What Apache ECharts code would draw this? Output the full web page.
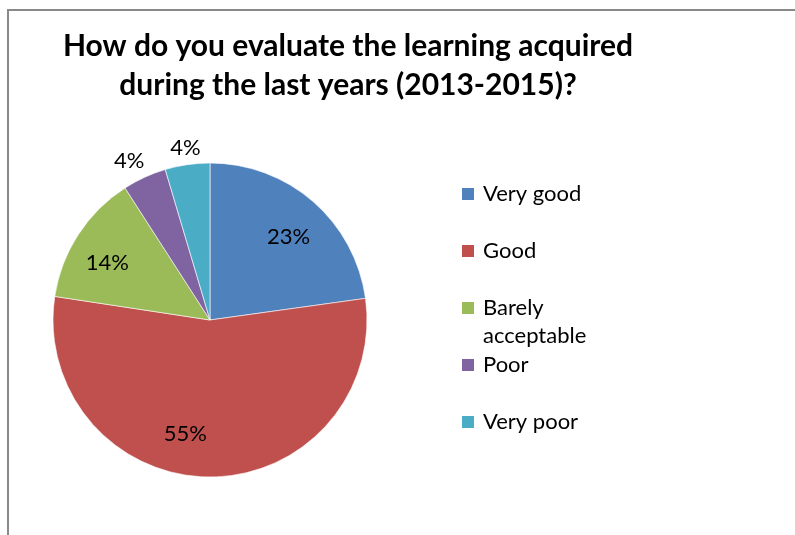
<!DOCTYPE html>
<html>
<head>
<meta charset="utf-8">
<script src="https://cdn.jsdelivr.net/npm/echarts@6/dist/echarts.min.js"></script>
<style>
html,body{margin:0;padding:0;background:#fff;}
#chart{width:795px;height:535px;}
</style>
</head>
<body>
<div id="chart"></div>
<script>
const titleText = 'How do you evaluate the learning acquired\nduring the last years (2013-2015)?';
const categories = ['Very good', 'Good', 'Barely acceptable', 'Poor', 'Very poor'];
const values = [22.8, 54.6, 13.5, 4.5, 4.6];
const labelTexts = ['23%', '55%', '14%', '4%', '4%'];
const colors = ['#4F81BD', '#C0504D', '#9BBB59', '#8064A2', '#4BACC6'];
const outsideLabels = ['Poor', 'Very poor'];

const FONT = 'Lato, "Open Sans", "Liberation Sans", sans-serif';
const chart = echarts.init(document.getElementById('chart'), null, {renderer: 'canvas'});

const labelOffsets = {
  'Very good': [2, 5], 'Good': [-24, -3], 'Barely acceptable': [-5, 6],
  'Poor': [-7, 2], 'Very poor': [1, 3]
};

const pieData = categories.map((c, i) => ({name: c, value: values[i], itemStyle: {color: colors[i]}}));
const innerLabelData = categories.map((c, i) => ({
  name: c,
  value: values[i],
  label: {show: outsideLabels.indexOf(c) < 0, offset: labelOffsets[c] || [0, 0]}
}));
const outerLabelData = categories.map((c, i) => ({
  name: c,
  value: values[i],
  label: {show: outsideLabels.indexOf(c) >= 0, offset: labelOffsets[c] || [0, 0]}
}));

const labelSeriesBase = {
  type: 'pie',
  center: [210, 320],
  startAngle: 90,
  clockwise: true,
  silent: true,
  itemStyle: {color: 'rgba(0,0,0,0)', borderWidth: 0},
  labelLine: {show: false},
  emphasis: {disabled: true},
  z: 3
};

chart.setOption({
  animation: false,
  backgroundColor: '#ffffff',
  graphic: [{
    type: 'rect',
    shape: {x: 8, y: 10, width: 1200, height: 1200},
    style: {fill: null, stroke: '#898989', lineWidth: 2},
    silent: true,
    z: -10
  }],
  title: {
    text: titleText,
    left: 348,
    top: 27,
    padding: 0,
    textAlign: 'center',
    textStyle: {fontFamily: FONT, fontSize: 30, fontWeight: 'bold', lineHeight: 39, color: '#000'}
  },
  legend: {
    orient: 'vertical',
    left: 460,
    top: 155,
    padding: 0,
    itemWidth: 14,
    itemHeight: 14,
    itemGap: -21,
    icon: 'rect',
    data: categories,
    selectedMode: false,
    formatter: function (name) {
      if (name === 'Barely acceptable') return '{e|\u00a0}\n{t|Barely}\n{t|acceptable}';
      return '{e|\u00a0}\n{t|' + name + '}\n{e|\u00a0}';
    },
    textStyle: {
      fontFamily: FONT, fontSize: 22, color: '#000',
      rich: {
        e: {fontFamily: FONT, fontSize: 22, lineHeight: 28},
        t: {fontFamily: FONT, fontSize: 22, lineHeight: 28, color: '#000', padding: [0, 0, 0, 3]}
      }
    }
  },
  series: [{
    type: 'pie',
    center: [210, 320],
    radius: [0, 157],
    startAngle: 90,
    clockwise: true,
    data: pieData,
    label: {show: false},
    labelLine: {show: false},
    itemStyle: {borderColor: '#ffffff', borderWidth: 0.6},
    emphasis: {disabled: true}
  }, Object.assign({}, labelSeriesBase, {
    radius: [70, 157],
    data: innerLabelData,
    label: {
      position: 'inside',
      fontFamily: FONT, fontSize: 22, color: '#000',
      formatter: function (p) { return labelTexts[p.dataIndex]; }
    }
  }), Object.assign({}, labelSeriesBase, {
    radius: [150, 198],
    data: outerLabelData,
    label: {
      position: 'inside',
      fontFamily: FONT, fontSize: 22, color: '#000',
      formatter: function (p) { return labelTexts[p.dataIndex]; }
    }
  })]
});
</script>
</body>
</html>
